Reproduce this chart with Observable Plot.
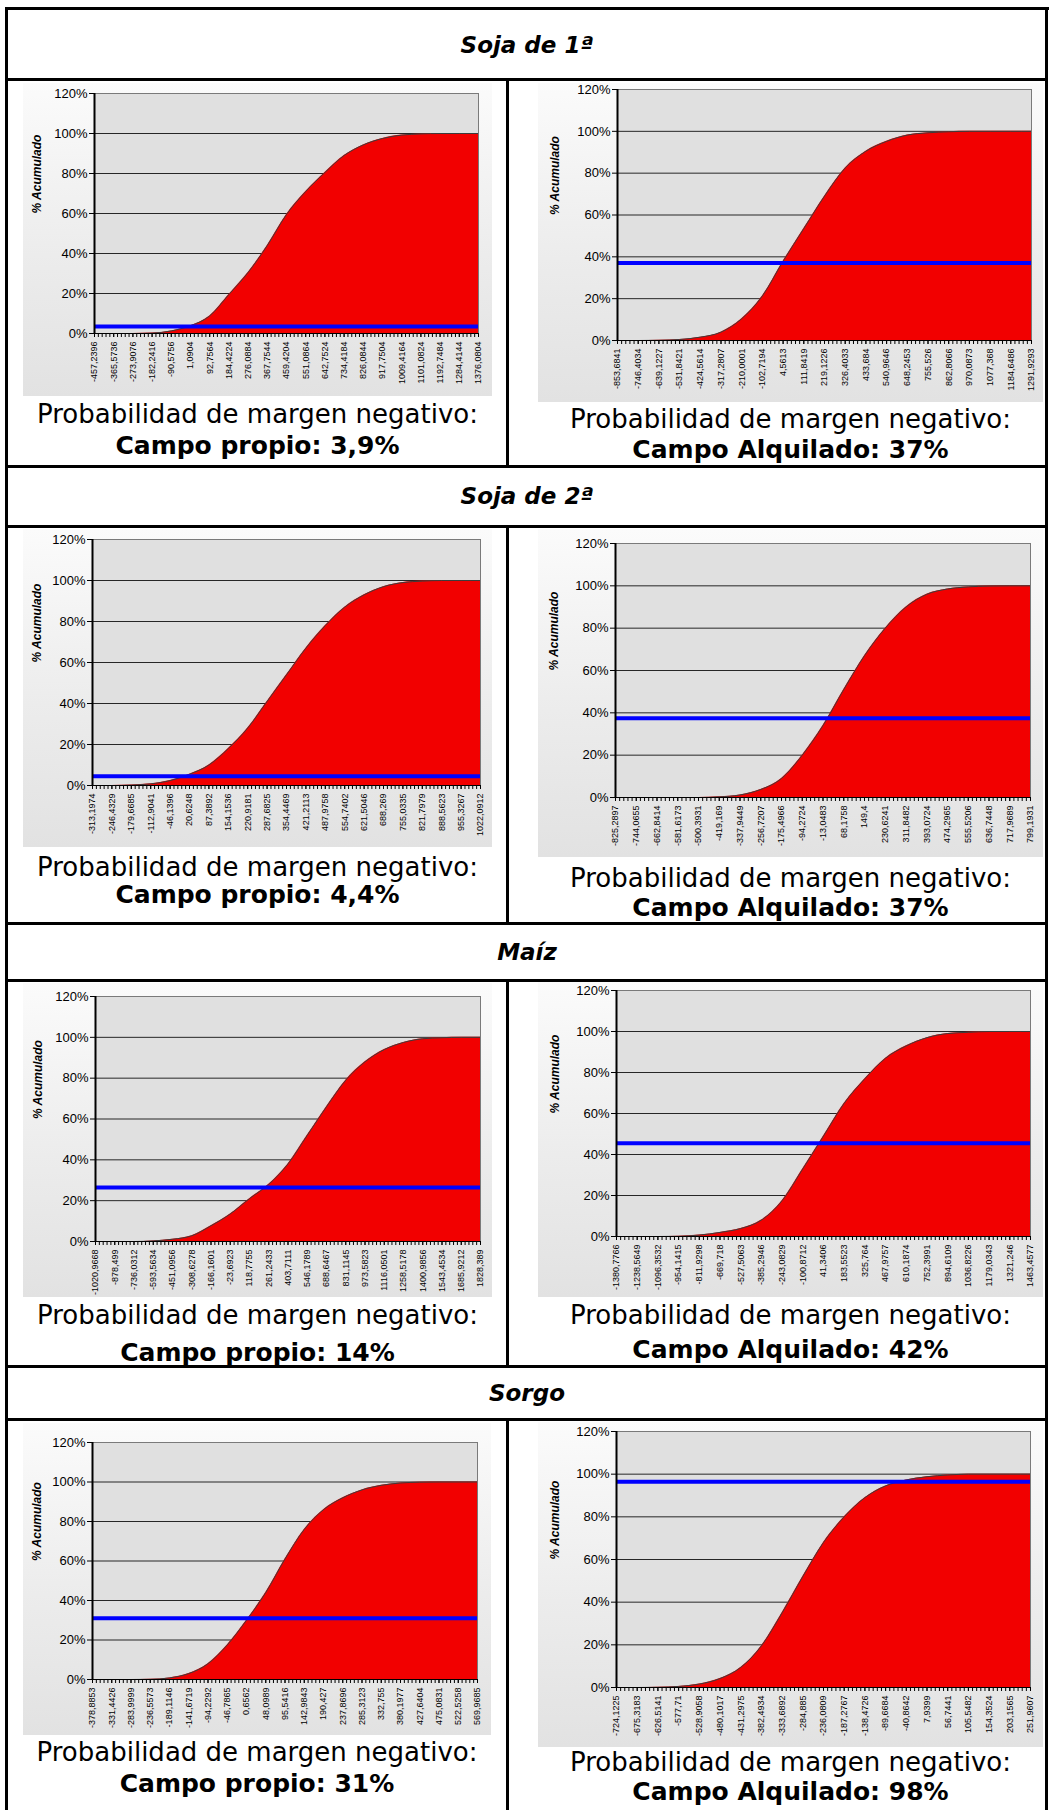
<!DOCTYPE html>
<html>
<head>
<meta charset="utf-8">
<script src="https://cdn.jsdelivr.net/npm/d3@7"></script>
<script src="https://cdn.jsdelivr.net/npm/@observablehq/plot@0.6"></script>
<style>
  body { margin: 0; background: #fff; }
  #page { position: relative; width: 1049px; height: 1810px; overflow: hidden; background: #fff; }
  .line { position: absolute; background: #000; z-index: 5; }
  .title { position: absolute; left: 8px; width: 1038px; text-align: center;
           font-family: "DejaVu Sans", Verdana, sans-serif; font-weight: bold; font-style: italic;
           font-size: 23px; line-height: 1; color: #000; }
  .cap { position: absolute; width: 500px; text-align: center; white-space: nowrap;
         font-family: "DejaVu Sans", Verdana, sans-serif; line-height: 1; color: #000; }
  .cap.reg { font-size: 26px; }
  .cap.bold { font-size: 25px; font-weight: bold; }
  .chart { position: absolute; background: linear-gradient(to bottom, #fbfbfb 0%, #ececec 55%, #e2e2e2 100%); }
  .chart svg { display: block; }
  .chart g[aria-label="x-axis tick label"] text { font-size: 9px; }
  .chart g[aria-label="y-axis tick label"] text { font-size: 13px; }
</style>
</head>
<body>
<div id="page"></div>
<script>
// ---------- DATA ----------
const sectionTitles = ["Soja de 1ª", "Soja de 2ª", "Maíz", "Sorgo"];
const captionLine1 = "Probabilidad de margen negativo:";
const captionsPropio = ["Campo propio: 3,9%", "Campo propio: 4,4%", "Campo propio: 14%", "Campo propio: 31%"];
const captionsAlquilado = ["Campo Alquilado: 37%", "Campo Alquilado: 37%", "Campo Alquilado: 42%", "Campo Alquilado: 98%"];

// x category labels (margins) and cumulative %
const xSoja1Propio = [-457.2396, -365.5736, -273.9076, -182.2416, -90.5756, 1.0904, 92.7564, 184.4224, 276.0884, 367.7544, 459.4204, 551.0864, 642.7524, 734.4184, 826.0844, 917.7504, 1009.4164, 1101.0824, 1192.7484, 1284.4144, 1376.0804];
const ySoja1Propio = [0, 0, 0, 0.2, 1.3, 3.9, 8.8, 19.5, 30.5, 44, 59.5, 71, 80.5, 89, 94.3, 97.5, 99.2, 99.8, 100, 100, 100];

const xSoja1Alq = [-853.6841, -746.4034, -639.1227, -531.8421, -424.5614, -317.2807, -210.0001, -102.7194, 4.5613, 111.8419, 219.1226, 326.4033, 433.684, 540.9646, 648.2453, 755.526, 862.8066, 970.0873, 1077.368, 1184.6486, 1291.9293];
const ySoja1Alq = [0, 0, 0.1, 0.5, 1.6, 4, 10.4, 21.3, 37.9, 53.5, 69, 82.5, 90.5, 95.2, 98.2, 99.3, 99.8, 100, 100, 100, 100];

const xSoja2Propio = [-313.1974, -246.4329, -179.6685, -112.9041, -46.1396, 20.6248, 87.3892, 154.1536, 220.9181, 287.6825, 354.4469, 421.2113, 487.9758, 554.7402, 621.5046, 688.269, 755.0335, 821.7979, 888.5623, 955.3267, 1022.0912];
const ySoja2Propio = [0, 0, 0.2, 0.8, 2.4, 5.5, 10, 18, 28, 41, 54, 67, 78, 87, 93, 97, 99, 99.7, 100, 100, 100];

const xSoja2Alq = [-825.2897, -744.0655, -662.8414, -581.6173, -500.3931, -419.169, -337.9449, -256.7207, -175.4966, -94.2724, -13.0483, 68.1758, 149.4, 230.6241, 311.8482, 393.0724, 474.2965, 555.5206, 636.7448, 717.9689, 799.1931];
const ySoja2Alq = [0, 0, 0, 0, 0, 0.3, 1.2, 3.8, 9, 20, 34, 51, 67, 80, 90, 96, 98.5, 99.5, 99.9, 100, 100];

const xMaizPropio = [-1020.9668, -878.499, -736.0312, -593.5634, -451.0956, -308.6278, -166.1601, -23.6923, 118.7755, 261.2433, 403.7111, 546.1789, 688.6467, 831.1145, 973.5823, 1116.0501, 1258.5178, 1400.9856, 1543.4534, 1685.9212, 1828.389];
const yMaizPropio = [0, 0, 0, 0.3, 1.1, 2.8, 7.7, 13.5, 21, 28, 38, 52, 66, 79, 88, 94, 97.5, 99.3, 99.8, 100, 100];

const xMaizAlq = [-1380.7766, -1238.5649, -1096.3532, -954.1415, -811.9298, -669.718, -527.5063, -385.2946, -243.0829, -100.8712, 41.3406, 183.5523, 325.764, 467.9757, 610.1874, 752.3991, 894.6109, 1036.8226, 1179.0343, 1321.246, 1463.4577];
const yMaizAlq = [0, 0, 0, 0.1, 0.7, 2, 3.9, 8, 17.5, 33, 49, 65, 77, 87, 93, 97, 99, 99.6, 100, 100, 100];

const xSorgoPropio = [-378.8853, -331.4426, -283.9999, -236.5573, -189.1146, -141.6719, -94.2292, -46.7865, 0.6562, 48.0989, 95.5416, 142.9843, 190.427, 237.8696, 285.3123, 332.755, 380.1977, 427.6404, 475.0831, 522.5258, 569.9685];
const ySorgoPropio = [0, 0, 0, 0.1, 0.8, 3, 8, 17.5, 30, 44, 61, 76, 86, 92, 96, 98.3, 99.5, 99.9, 100, 100, 100];

const xSorgoAlq = [-724.1225, -675.3183, -626.5141, -577.71, -528.9058, -480.1017, -431.2975, -382.4934, -333.6892, -284.885, -236.0809, -187.2767, -138.4726, -89.6684, -40.8642, 7.9399, 56.7441, 105.5482, 154.3524, 203.1565, 251.9607];
const ySorgoAlq = [0, 0, 0.1, 0.5, 1.6, 4.2, 9.4, 19.5, 35, 52, 68, 80, 89, 94.5, 97.3, 98.8, 99.6, 100, 100, 100, 100];

// blue reference lines (% level as drawn)
const blueLevels = [3.5, 37, 4.5, 37.5, 26.5, 45.5, 31, 96.5];
const yTicks = [0, 20, 40, 60, 80, 100, 120];
const yAxisTitle = "% Acumulado";

// ---------- LAYOUT (positions / styles only) ----------
const seriesX = [xSoja1Propio, xSoja1Alq, xSoja2Propio, xSoja2Alq, xMaizPropio, xMaizAlq, xSorgoPropio, xSorgoAlq];
const seriesY = [ySoja1Propio, ySoja1Alq, ySoja2Propio, ySoja2Alq, yMaizPropio, yMaizAlq, ySorgoPropio, ySorgoAlq];
const boxes = [
  {left: 23,  top: 83,   w: 469, h: 313, mL: 71, mR: 14, mT: 10, mB: 63, tdx: 57},
  {left: 538, top: 83,   w: 505, h: 319, mL: 79, mR: 12, mT: 6,  mB: 62, tdx: 62},
  {left: 23,  top: 529,  w: 469, h: 318, mL: 69, mR: 12, mT: 10, mB: 62, tdx: 55},
  {left: 538, top: 529,  w: 505, h: 328, mL: 77, mR: 13, mT: 14, mB: 60, tdx: 61},
  {left: 23,  top: 983,  w: 469, h: 314, mL: 72, mR: 12, mT: 13, mB: 56, tdx: 57},
  {left: 538, top: 982,  w: 505, h: 315, mL: 78, mR: 13, mT: 8,  mB: 61, tdx: 61},
  {left: 23,  top: 1423, w: 468, h: 312, mL: 69, mR: 14, mT: 19, mB: 56, tdx: 55},
  {left: 538, top: 1422, w: 505, h: 325, mL: 78, mR: 13, mT: 9,  mB: 60, tdx: 61}
];
const capReg = [423, 428, 876, 887, 1324, 1324, 1761, 1771];
const capBold = [454, 458, 903, 916, 1361, 1358, 1792, 1800];
const titleTops = [34, 485, 941, 1382];

const page = document.getElementById("page");

function cdfChart(xs, ys, blue, b) {
  const data = xs.map((x, i) => ({x, y: ys[i]}));
  const x0 = xs[0], x1 = xs[xs.length - 1];
  const step = (x1 - x0) / 100;
  const minor = d3.range(101).map(i => x0 + i * step);
  return Plot.plot({
    width: b.w, height: b.h,
    marginLeft: b.mL, marginRight: b.mR, marginTop: b.mT, marginBottom: b.mB,
    style: {background: "transparent", fontFamily: "'Liberation Sans', Arial, sans-serif", fontSize: "12px", color: "#000", overflow: "visible"},
    x: {type: "linear", domain: [x0, x1], label: null},
    y: {domain: [0, 120], label: null},
    marks: [
      Plot.frame({fill: "#e0e0e0", stroke: null}),
      Plot.gridY([20, 40, 60, 80, 100], {stroke: "#262626", strokeOpacity: 1}),
      Plot.areaY(data, {x: "x", y: "y", fill: "#f20000", curve: "monotone-x"}),
      Plot.lineY(data, {x: "x", y: "y", stroke: "#3c3c3c", strokeWidth: 1, curve: "monotone-x"}),
      Plot.ruleY([blue], {x1: x0, x2: x1, stroke: "#0000ff", strokeWidth: 4}),
      Plot.frame({stroke: "#7a7a7a", fill: null}),
      Plot.ruleY([0], {stroke: "#000", strokeWidth: 1}),
      Plot.ruleX([x0], {stroke: "#000", strokeWidth: 2}),
      Plot.axisX({ticks: minor, tickSize: 4, tickFormat: () => "", stroke: "#000", label: null}),
      Plot.axisX({ticks: xs, tickSize: 4, tickPadding: 4, tickRotate: -90,
                  tickFormat: d => String(d).replace(".", ","), fontSize: 9, label: null}),
      Plot.axisY({ticks: yTicks, tickSize: 5, tickPadding: 2, tickFormat: d => d + "%", fontSize: 13, label: null}),
      Plot.text([yAxisTitle], {text: d => d, frameAnchor: "left", rotate: -90, dx: -b.tdx,
                               fontWeight: "bold", fontStyle: "italic", fontSize: 12})
    ]
  });
}

// charts
for (let i = 0; i < 8; i++) {
  const b = boxes[i];
  const div = document.createElement("div");
  div.className = "chart";
  div.style.left = b.left + "px";
  div.style.top = b.top + "px";
  div.style.width = b.w + "px";
  div.style.height = b.h + "px";
  div.appendChild(cdfChart(seriesX[i], seriesY[i], blueLevels[i], b));
  page.appendChild(div);

  const cx = b.left + b.w / 2;
  const r = document.createElement("div");
  r.className = "cap reg";
  r.textContent = captionLine1;
  r.style.left = (cx - 250) + "px";
  r.style.top = (capReg[i] - 22) + "px";
  page.appendChild(r);

  const s = document.createElement("div");
  s.className = "cap bold";
  s.textContent = (i % 2 === 0 ? captionsPropio : captionsAlquilado)[Math.floor(i / 2)];
  s.style.left = (cx - 250) + "px";
  s.style.top = (capBold[i] - 21) + "px";
  page.appendChild(s);
}

// section titles
sectionTitles.forEach((t, k) => {
  const d = document.createElement("div");
  d.className = "title";
  d.textContent = t;
  d.style.top = titleTops[k] + "px";
  page.appendChild(d);
});

// table rules
function line(l, t, w, h) {
  const d = document.createElement("div");
  d.className = "line";
  Object.assign(d.style, {left: l + "px", top: t + "px", width: w + "px", height: h + "px"});
  page.appendChild(d);
}
line(5, 7, 1044, 3);
line(5, 7, 3, 1803);
line(1045, 7, 3, 1803);
[78, 465, 525, 922, 979, 1365, 1418].forEach(y => line(5, y, 1043, 3));
[[80, 466], [527, 923], [981, 1366], [1420, 1810]].forEach(([a, z]) => line(506, a, 3, z - a));
</script>
</body>
</html>
